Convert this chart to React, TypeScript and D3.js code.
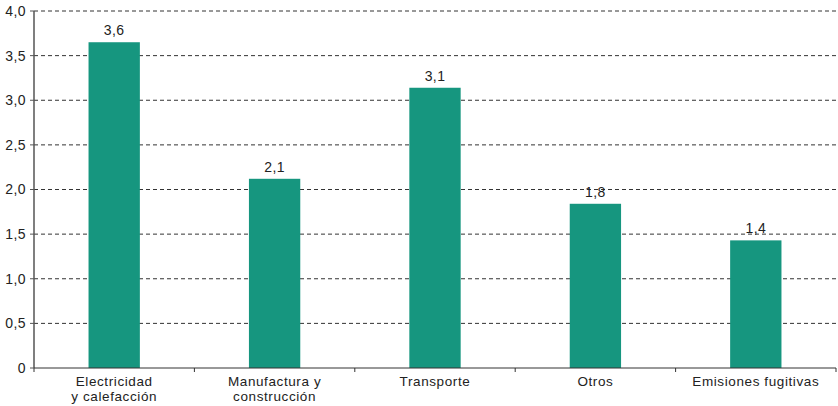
import { useEffect, useRef } from 'react';
import * as d3 from 'd3';

const categories = [
  ['Electricidad', 'y calefacción'],
  ['Manufactura y', 'construcción'],
  ['Transporte'],
  ['Otros'],
  ['Emisiones fugitivas'],
];
const values = [3.65, 2.12, 3.14, 1.84, 1.43];
const valueLabels = ['3,6', '2,1', '3,1', '1,8', '1,4'];
const yTicks = [0, 0.5, 1, 1.5, 2, 2.5, 3, 3.5, 4];

const BAR_COLOR = '#16967f';
const FONT = 'Liberation Sans, Arial, sans-serif';

export default function App() {
  const svgRef = useRef<SVGSVGElement>(null);

  useEffect(() => {
    if (!svgRef.current) return;
    const svg = d3.select(svgRef.current);
    svg.selectAll('*').remove();

    const margin = { top: 11, right: 2, bottom: 38, left: 34 };
    const width = 838 - margin.left - margin.right;
    const height = 406 - margin.top - margin.bottom;

    const g = svg.append('g').attr('transform', `translate(${margin.left},${margin.top})`);

    const x = d3.scaleBand<number>()
      .domain(d3.range(categories.length))
      .range([0, width])
      .paddingInner(0.68)
      .paddingOuter(0.34);

    const y = d3.scaleLinear().domain([0, 4]).range([height, 0]);

    // dashed grid
    g.selectAll('line.grid')
      .data(yTicks.filter(t => t > 0))
      .enter()
      .append('line')
      .attr('class', 'grid')
      .attr('x1', 0)
      .attr('x2', width)
      .attr('y1', d => y(d))
      .attr('y2', d => y(d))
      .attr('stroke', '#333')
      .attr('stroke-width', 1)
      .attr('stroke-dasharray', '4,3');

    // bars
    g.selectAll('rect.bar')
      .data(values)
      .enter()
      .append('rect')
      .attr('x', (_, i) => x(i)!)
      .attr('width', x.bandwidth())
      .attr('y', d => y(d))
      .attr('height', d => height - y(d))
      .attr('fill', BAR_COLOR);

    // value labels
    g.selectAll('text.val')
      .data(values)
      .enter()
      .append('text')
      .attr('x', (_, i) => x(i)! + x.bandwidth() / 2)
      .attr('y', d => y(d) - 7)
      .attr('text-anchor', 'middle')
      .attr('font-family', FONT)
      .attr('font-size', 14)
      .attr('letter-spacing', 0.4)
      .attr('fill', '#222')
      .text((_, i) => valueLabels[i]);

    // y axis
    g.append('line')
      .attr('x1', 0).attr('x2', 0)
      .attr('y1', 0).attr('y2', height)
      .attr('stroke', '#555').attr('stroke-width', 1.5);

    const yt = g.selectAll('g.ytick').data(yTicks).enter().append('g')
      .attr('transform', d => `translate(0,${y(d)})`);
    yt.append('line').attr('x1', -4).attr('x2', 0).attr('stroke', '#555').attr('stroke-width', 1);
    yt.append('text')
      .attr('x', -8)
      .attr('dy', '0.35em')
      .attr('text-anchor', 'end')
      .attr('font-family', FONT)
      .attr('font-size', 14)
      .attr('letter-spacing', 0.4)
      .attr('fill', '#222')
      .text(d => d === 0 ? '0' : d3.format('.1f')(d).replace('.', ','));

    // x axis
    g.append('line')
      .attr('x1', 0).attr('x2', width)
      .attr('y1', height).attr('y2', height)
      .attr('stroke', '#333').attr('stroke-width', 1);

    const step = x.step();
    const bounds = d3.range(categories.length + 1).map(i => i * step);
    g.selectAll('line.xtick').data(bounds).enter().append('line')
      .attr('x1', d => d).attr('x2', d => d)
      .attr('y1', height).attr('y2', height + 4)
      .attr('stroke', '#333').attr('stroke-width', 1);

    // category labels, one text per line
    categories.forEach((lines, i) => {
      lines.forEach((line, j) => {
        g.append('text')
          .attr('x', x(i)! + x.bandwidth() / 2)
          .attr('y', height + 18 + j * 15.3)
          .attr('text-anchor', 'middle')
          .attr('font-family', FONT)
          .attr('font-size', 13.5)
          .attr('letter-spacing', 0.6)
          .attr('fill', '#222')
          .text(line);
      });
    });
  }, []);

  return (
    <svg ref={svgRef} width={838} height={406}
      style={{ position: 'absolute', left: 0, top: 0, background: '#fff' }} />
  );
}
